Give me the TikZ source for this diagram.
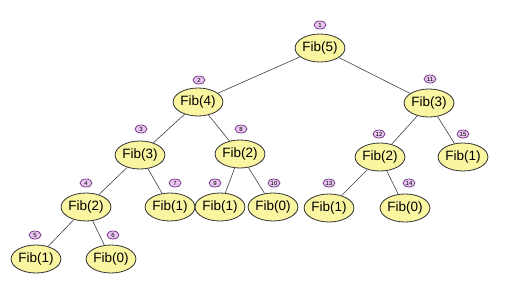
\documentclass[tikz,border=0pt]{standalone}
\usepackage{fontspec}
\setmainfont{Liberation Sans}
\usetikzlibrary{shapes.geometric}
\definecolor{fibyellow}{HTML}{FAF5A0}
\definecolor{badgefill}{HTML}{E8C6F0}
\definecolor{badgeborder}{HTML}{6A2A80}
\begin{document}
\begin{tikzpicture}[x=1pt,y=-1pt,
  fib/.style={ellipse, draw=black!80, fill=fibyellow, line width=0.8pt,
    minimum width=46pt, minimum height=28pt, inner sep=0pt,
    font=\fontsize{13.5}{14}\selectfont},
  badge/.style={ellipse, draw=badgeborder, fill=badgefill, line width=0.7pt,
    minimum width=12pt, minimum height=8pt, inner sep=0pt,
    font=\fontsize{6}{6}\selectfont},
  link/.style={draw=black!75, line width=0.6pt}]
\useasboundingbox (0,0) rectangle (527,301);
% tree nodes
\node[fib] (n1)  at (320,48)  {Fib(5)};
\node[fib] (n2)  at (198,102) {Fib(4)};
\node[fib] (n11) at (429,103) {Fib(3)};
\node[fib] (n3)  at (140,155) {Fib(3)};
\node[fib] (n8)  at (240,154) {Fib(2)};
\node[fib] (n12) at (380,157) {Fib(2)};
\node[fib] (n15) at (463,157) {Fib(1)};
\node[fib] (n4)  at (86,207)  {Fib(2)};
\node[fib] (n7)  at (170,207) {Fib(1)};
\node[fib] (n9)  at (220,207) {Fib(1)};
\node[fib] (n10) at (273,207) {Fib(0)};
\node[fib] (n13) at (329,208) {Fib(1)};
\node[fib] (n14) at (405,208) {Fib(0)};
\node[fib] (n5)  at (36,259)  {Fib(1)};
\node[fib] (n6)  at (111,259) {Fib(0)};
% badges
\node[badge] (b1)  at (320,25)  {1};
\node[badge] (b2)  at (199,80)  {2};
\node[badge] (b11) at (430,79)  {11};
\node[badge] (b3)  at (141,129) {3};
\node[badge] (b8)  at (241,129) {8};
\node[badge] (b12) at (379,134) {12};
\node[badge] (b15) at (463,134) {15};
\node[badge] (b4)  at (86,183)  {4};
\node[badge] (b7)  at (175,183) {7};
\node[badge] (b9)  at (215,183) {9};
\node[badge] (b10) at (274,183) {10};
\node[badge] (b13) at (329,183) {13};
\node[badge] (b14) at (409,183) {14};
\node[badge] (b5)  at (35,235)  {5};
\node[badge] (b6)  at (113,235) {6};
% edges
\draw[link] (n1) -- (n2);
\draw[link] (n1) -- (n11);
\draw[link] (n2) -- (n3);
\draw[link] (n2) -- (n8);
\draw[link] (n3) -- (n4);
\draw[link] (n3) -- (n7);
\draw[link] (n4) -- (n5);
\draw[link] (n4) -- (n6);
\draw[link] (n8) -- (n9);
\draw[link] (n8) -- (n10);
\draw[link] (n11) -- (n12);
\draw[link] (n11) -- (n15);
\draw[link] (n12) -- (n13);
\draw[link] (n12) -- (n14);
\end{tikzpicture}
\end{document}
